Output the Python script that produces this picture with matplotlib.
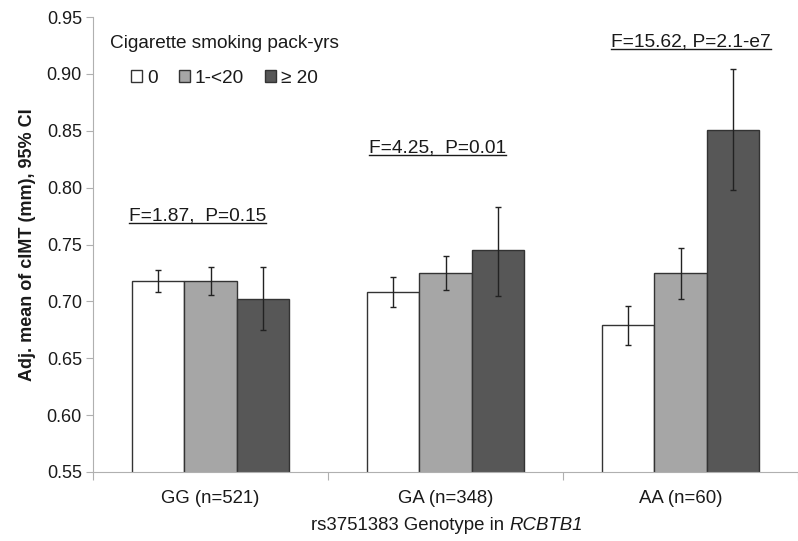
import numpy as np
import matplotlib.pyplot as plt
from matplotlib.lines import Line2D

plt.rcParams['font.family'] = ['Liberation Sans', 'DejaVu Sans']

genotypes = ["GG (n=521)", "GA (n=348)", "AA (n=60)"]
groups = ["0", "1-<20", "\u2265 20"]
colors = ["#ffffff", "#a6a6a6", "#575757"]

# adjusted means and 95% CI bounds, one row per smoking group
means = np.array([[0.718, 0.708, 0.679],
                  [0.718, 0.725, 0.725],
                  [0.702, 0.745, 0.851]])
ci_low = np.array([[0.708, 0.695, 0.662],
                   [0.706, 0.710, 0.702],
                   [0.675, 0.705, 0.798]])
ci_high = np.array([[0.728, 0.721, 0.696],
                    [0.730, 0.740, 0.747],
                    [0.730, 0.783, 0.904]])

stats = ["F=1.87,  P=0.15", "F=4.25,  P=0.01", "F=15.62, P=2.1-e7"]
stat_x = [-0.348, 0.673, 1.705]
stat_y = [0.775, 0.835, 0.928]

W, H = 798, 541
fig = plt.figure(figsize=(W / 100, H / 100), dpi=100)
ax = fig.add_axes([93 / W, 69 / H, 705 / W, 455 / H])

x = np.arange(len(genotypes))
w = 2 / 9
txt = "#1a1a1a"
bars = []
for i in range(3):
    pos = x + (i - 1) * w
    b = ax.bar(pos, means[i], w, bottom=0, color=colors[i], edgecolor="#333333",
               linewidth=1.0, label=groups[i], zorder=2)
    bars.append(b)
    err = [means[i] - ci_low[i], ci_high[i] - means[i]]
    ax.errorbar(pos, means[i], yerr=err, fmt="none", ecolor="#222222",
                elinewidth=1.0, capsize=2.5, capthick=1.0, zorder=3)

ax.set_ylim(0.55, 0.95)
ax.set_xlim(-0.5, 2.468)
ax.set_yticks(np.arange(0.55, 0.951, 0.05))
ax.set_yticklabels([f"{v:.2f}" for v in np.arange(0.55, 0.951, 0.05)])
ax.set_xticks([-0.5, 0.5, 1.5, 2.5])
ax.set_xticklabels([])
ax.set_xticks(x, minor=True)
ax.set_xticklabels(genotypes, minor=True)
ax.tick_params(axis="x", which="minor", length=0, pad=13, labelsize=13.4, labelcolor=txt)
ax.tick_params(axis="x", which="major", length=6, color="#b0b0b0")
ax.tick_params(axis="y", length=5, color="#b0b0b0", labelsize=13, labelcolor=txt, pad=3)

for s in ["top", "right"]:
    ax.spines[s].set_visible(False)
for s in ["left", "bottom"]:
    ax.spines[s].set_color("#b0b0b0")
    ax.spines[s].set_zorder(4)

ax.set_ylabel("Adj. mean of cIMT (mm), 95% CI", fontsize=13, fontweight="bold",
              color=txt, labelpad=8)

leg = ax.legend(handles=bars, title="Cigarette smoking pack-yrs", ncol=3, frameon=False,
                fontsize=13.7, title_fontsize=13.7, loc="upper left",
                bbox_to_anchor=(0.0, 0.997), handlelength=0.6, handleheight=0.6,
                handletextpad=0.25, columnspacing=1.1, labelspacing=0.9)
leg.get_title().set_color(txt)
for t in leg.get_texts():
    t.set_color(txt)

texts = []
for s, sx, sy in zip(stats, stat_x, stat_y):
    texts.append(ax.text(sx, sy, s, fontsize=13.8, color=txt, ha="left", va="center"))

# x label with italic gene name
xl1 = fig.text(0, 1 - 525 / H, "rs3751383 Genotype in", fontsize=13.4, color=txt,
               ha="left", va="center")
xl2 = fig.text(0, 1 - 525 / H, "RCBTB1", fontsize=13.4, color=txt, style="italic",
               ha="left", va="center")

fig.canvas.draw()
r = fig.canvas.get_renderer()
w1 = xl1.get_window_extent(r).width
w2 = xl2.get_window_extent(r).width
gap = 5
x0 = 447 - (w1 + gap + w2) / 2
xl1.set_x(x0 / W)
xl2.set_x((x0 + w1 + gap) / W)

# underline the F / P statistics
for t in texts:
    bb = t.get_window_extent(r)
    yy = bb.y0 + 1.5
    fig.add_artist(Line2D([bb.x0 / W, bb.x1 / W], [yy / H, yy / H],
                          color=txt, linewidth=1.0))

fig.savefig("out.png", dpi=100)
